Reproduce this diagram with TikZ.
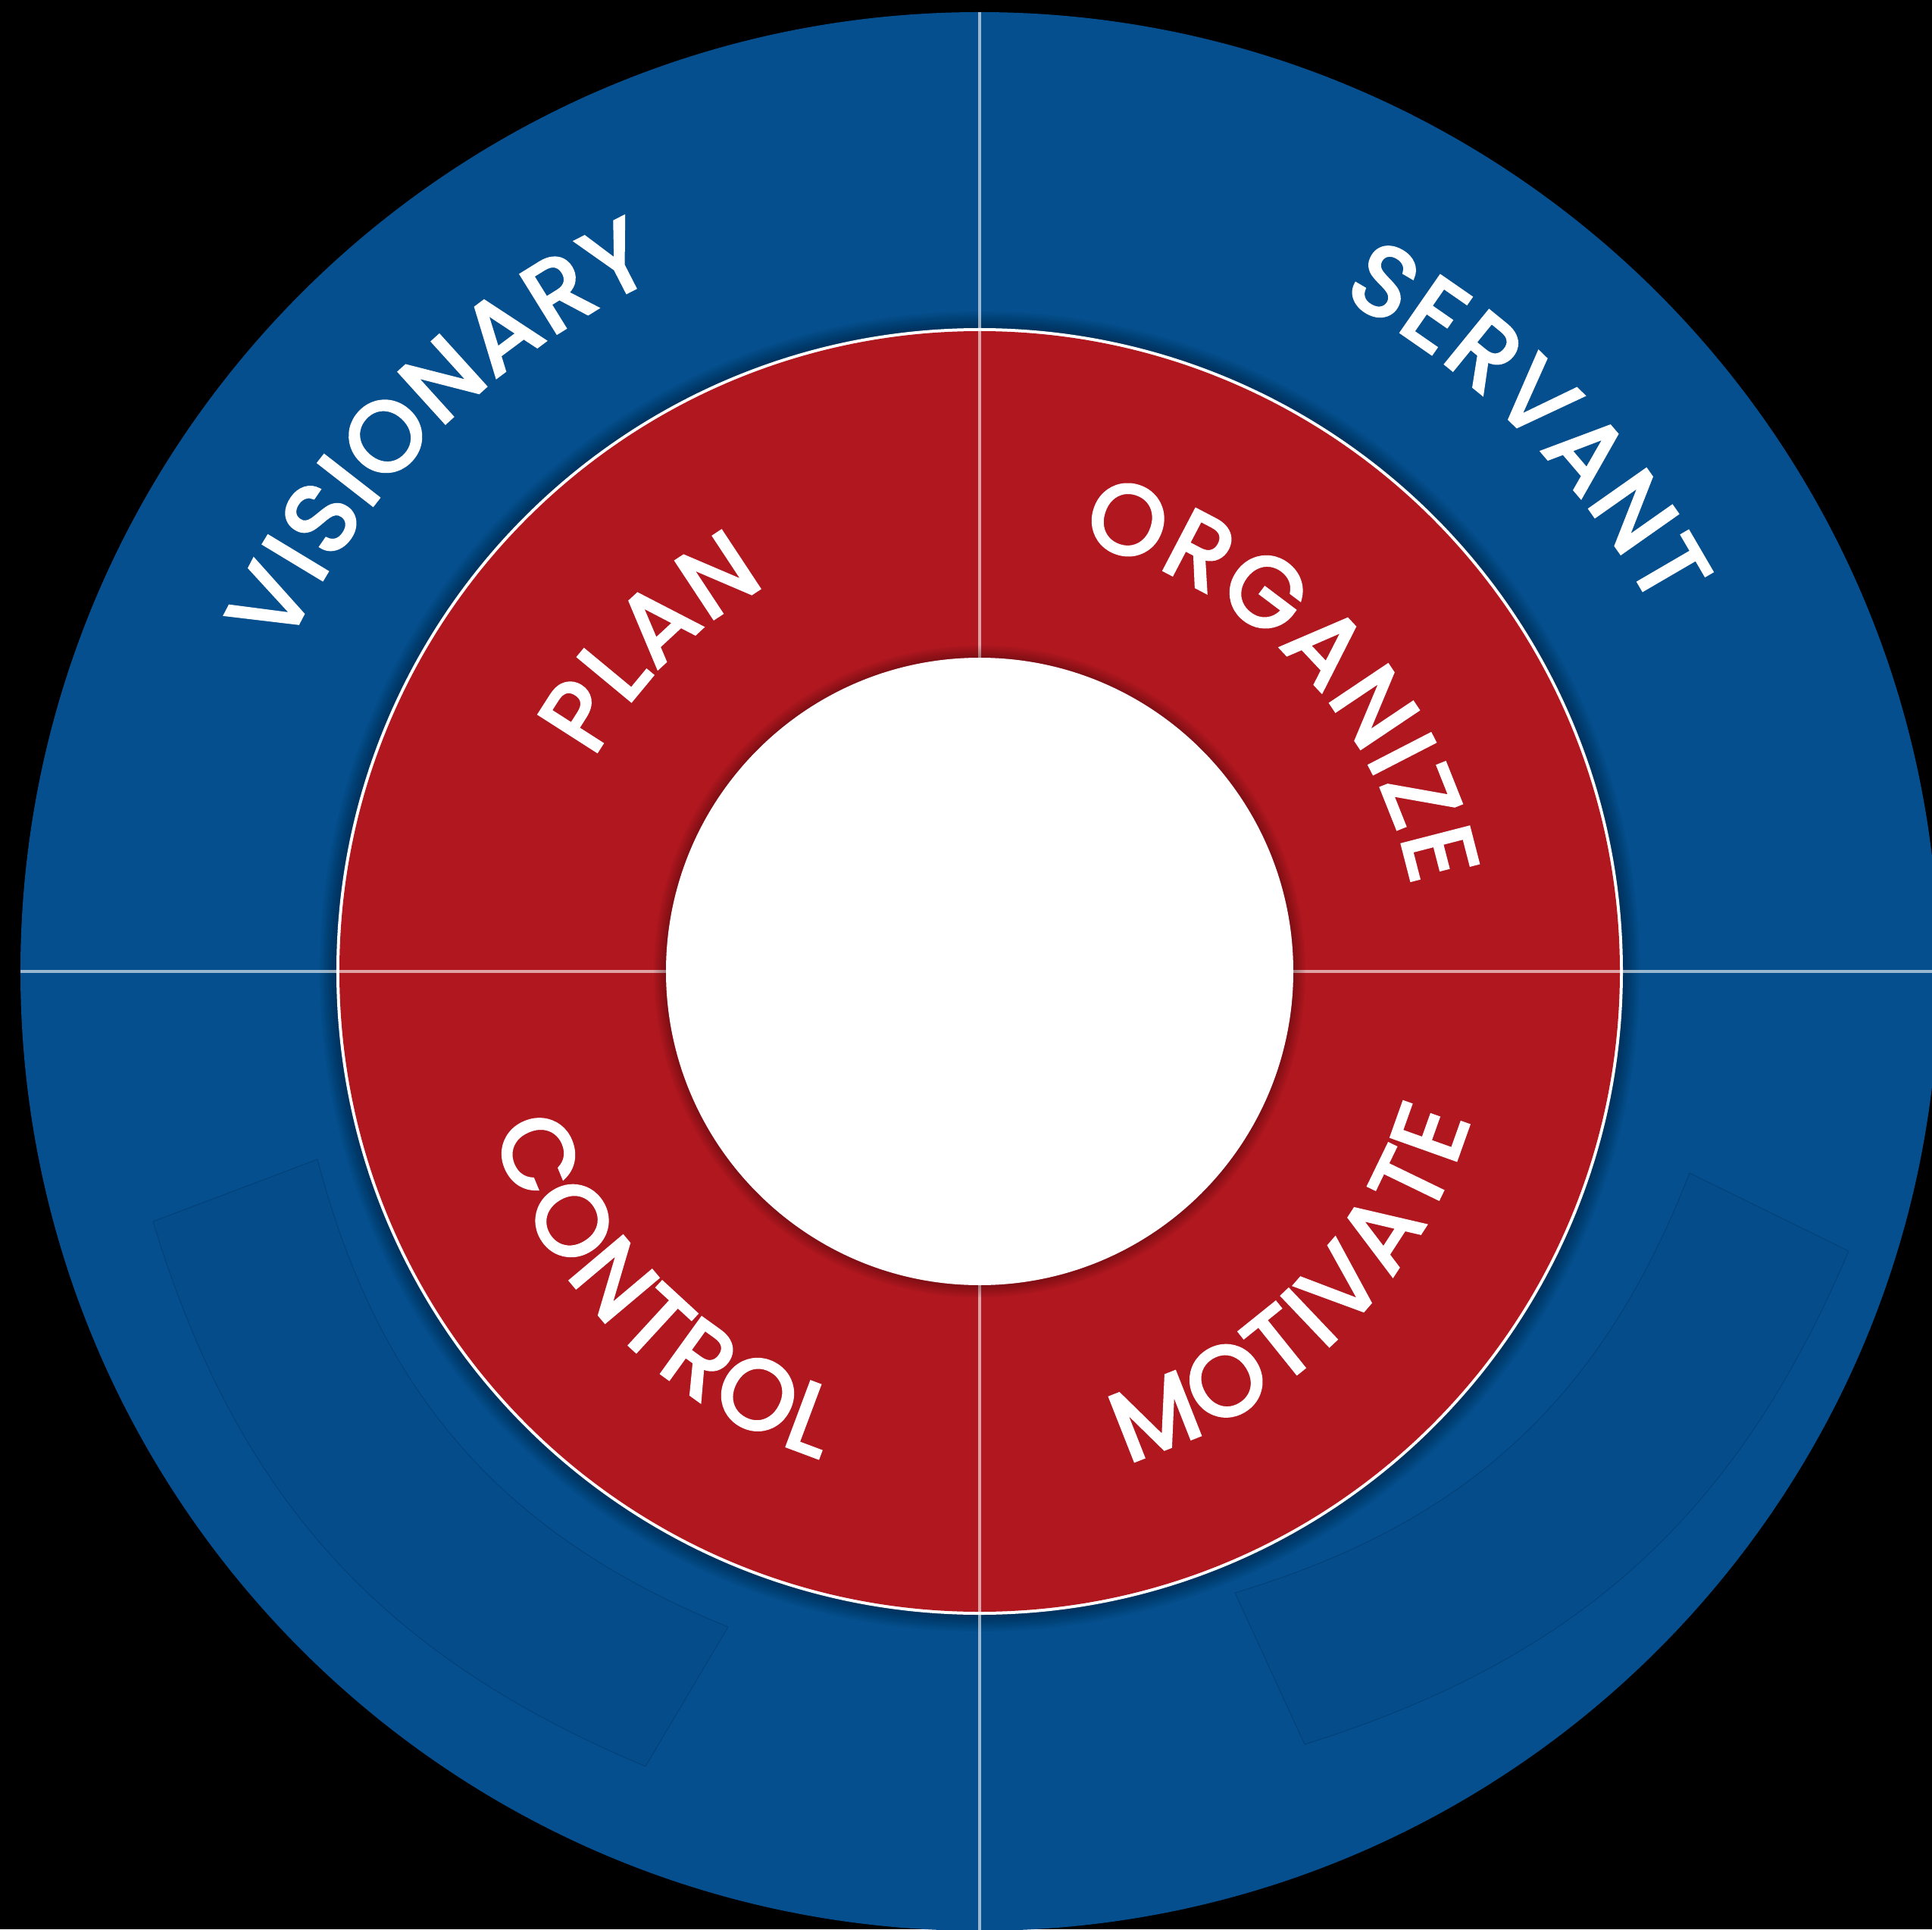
\documentclass[tikz,border=0pt]{standalone}
\usepackage{fontspec}
\newfontfamily\lbl{Poppins}[FakeBold=3.2]
\newcommand\lblfont{\lbl\fontsize{37pt}{42pt}\selectfont}
\definecolor{ringblue}{RGB}{5,79,142}
\definecolor{sectblue}{RGB}{4,76,138}
\definecolor{sectline}{RGB}{3,64,120}
\definecolor{ringred}{RGB}{177,23,31}
\tikzset{
  divider/.style={white, opacity=0.6, line width=1.2pt},
  sector/.style={fill=sectblue, draw=sectline, line width=0.25pt},
  shadowring/.style={black, opacity=0.035},
  letter/.style={inner sep=0pt, outer sep=0pt, anchor=base, text=white, font=\lblfont}
}
\newcommand\measurech[1]{\setbox0=\hbox{\pgfinterruptpicture\normalfont\lblfont#1\endpgfinterruptpicture}\edef\lw{\the\wd0}}
% #1 name, #2 letters, #3 centre angle, #4 baseline radius (cm), #5 1 = clockwise (tops out), -1 = anticlockwise (tops in), #6 tracking (pt)
\newcommand\arcword[6]{%
  \gdef\arctot{0}%
  \foreach \lch in {#2}{%
    \measurech{\lch}%
    \pgfmathsetmacro\ltmp{\arctot+\lw+#6}\xdef\arctot{\ltmp}%
  }%
  \pgfmathsetmacro\ltmp{-(\arctot-#6)/2}\xdef\arcpos{\ltmp}%
  \foreach \lch [count=\k] in {#2}{%
    \measurech{\lch}%
    \pgfmathsetmacro\lang{#3-(#5)*(\arcpos+\lw/2)/(#4*28.45274)*57.29578}%
    \pgfmathsetmacro\lrot{\lang-90*(#5)}%
    \node[letter, rotate=\lrot] (#1-\k) at (\lang:#4) {\lch};
    \pgfmathsetmacro\ltmp{\arcpos+\lw+#6}\xdef\arcpos{\ltmp}%
  }%
}
\begin{document}
\begin{tikzpicture}
\useasboundingbox (-12.93,-12.64) rectangle (12.57,12.82);
\fill[black] (-12.93,-12.64) rectangle (12.57,12.82);
% outer blue disc
\fill[ringblue] (0,0) circle (12.66);
% faint sectors in the lower quadrants
\coordinate (llIT) at (-8.74,-2.48);
\coordinate (llIB) at (-3.32,-8.65);
\coordinate (llOB) at (-4.41,-10.49);
\coordinate (llOT) at (-10.91,-3.30);
\path[sector] (llIT) to[bend right=26.6] (llIB) -- (llOB) to[bend left=25.2] (llOT) -- cycle;
\coordinate (lrIT) at (9.37,-2.66);
\coordinate (lrIB) at (3.37,-8.20);
\coordinate (lrOB) at (4.29,-10.20);
\coordinate (lrOT) at (11.47,-3.69);
\path[sector] (lrIT) to[bend left=26] (lrIB) -- (lrOB) to[bend right=24.8] (lrOT) -- cycle;
% shadow of the red ring on the blue
\foreach \i in {1,...,10} \fill[shadowring] (0,0) circle ({8.49+\i*0.022});
% red ring with white border
\fill[white] (0,0) circle (8.49);
\fill[ringred] (0,0) circle (8.45);
% dividers
\draw[divider] (0,12.66) -- (0,-12.66);
\draw[divider] (-12.66,0) -- (12.66,0);
% shadow of the inner disc on the red
\foreach \i in {1,...,8} \fill[shadowring] (0,0) circle ({4.14+\i*0.02});
\fill[white] (0,0) circle (4.14);
% labels
\arcword{vis}{V,I,S,I,O,N,A,R,Y}{135}{10.10}{1}{1.5}
\arcword{ser}{S,E,R,V,A,N,T}{45}{10.10}{1}{1.5}
\arcword{pla}{P,L,A,N}{135}{5.82}{1}{1.5}
\arcword{org}{O,R,G,A,N,I,Z,E}{44}{5.82}{1}{1.5}
\arcword{con}{C,O,N,T,R,O,L}{225}{6.76}{-1}{1.5}
\arcword{mot}{M,O,T,I,V,A,T,E}{315}{6.76}{-1}{1.5}
\end{tikzpicture}
\end{document}
